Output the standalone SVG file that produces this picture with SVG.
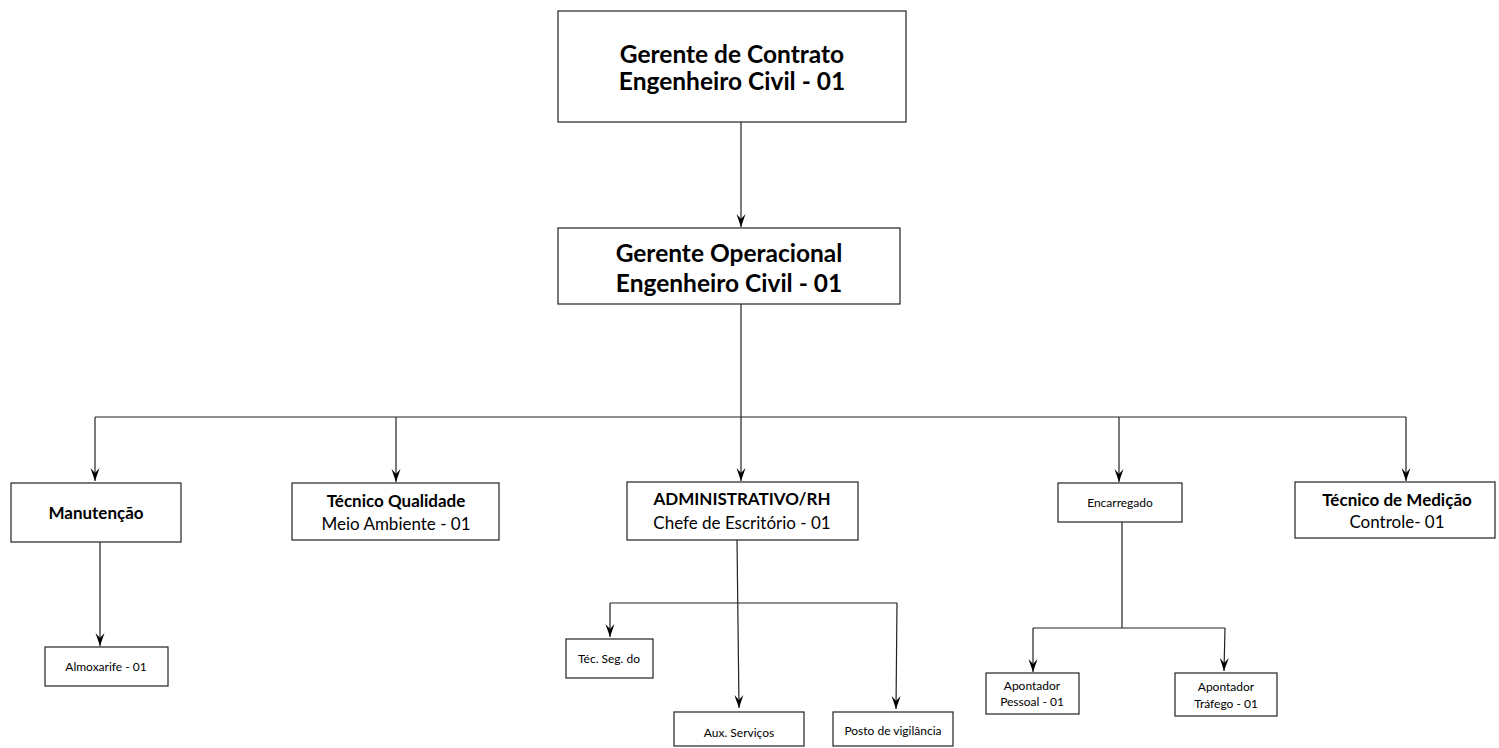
<svg xmlns="http://www.w3.org/2000/svg" width="1499" height="748" viewBox="0 0 1499 748">
<style>
.box{fill:#fff;stroke:#222;stroke-width:1.2}
.ln{fill:none;stroke:#222;stroke-width:1.2}
text{font-family:Lato,"Open Sans","Liberation Sans",sans-serif;fill:#000;text-anchor:middle}
.t1{font-size:24.5px;font-weight:bold}
.b{font-size:17px;font-weight:bold}
.r{font-size:17px}
.s{font-size:12px}
</style>
<defs>
<marker id="arr" markerUnits="userSpaceOnUse" markerWidth="14" markerHeight="12" viewBox="-13 -6 14 12" refX="0" refY="0" orient="auto">
<path d="M-13,-4.5 L0,0 L-13,4.5 L-8,0 Z" fill="#000"/>
</marker>
</defs>
<g id="connectors">
<path class="ln" d="M741,122 V227" marker-end="url(#arr)"/>
<path class="ln" d="M741,304 V417"/>
<path class="ln" d="M95,417 H1406"/>
<path class="ln" d="M95,417 V481" marker-end="url(#arr)"/>
<path class="ln" d="M396,417 V482" marker-end="url(#arr)"/>
<path class="ln" d="M741,417 V481" marker-end="url(#arr)"/>
<path class="ln" d="M1119,417 V482" marker-end="url(#arr)"/>
<path class="ln" d="M1406,417 V481" marker-end="url(#arr)"/>
<path class="ln" d="M100,542 V646" marker-end="url(#arr)"/>
<path class="ln" d="M737,540 L739,708" marker-end="url(#arr)"/>
<path class="ln" d="M610,603 H897"/>
<path class="ln" d="M610,603 V637" marker-end="url(#arr)"/>
<path class="ln" d="M897,603 L896,709" marker-end="url(#arr)"/>
<path class="ln" d="M1122,522 V628"/>
<path class="ln" d="M1033,628 H1225"/>
<path class="ln" d="M1033,628 V672" marker-end="url(#arr)"/>
<path class="ln" d="M1225,628 L1224,671" marker-end="url(#arr)"/>
</g>
<g id="n-contrato">
<rect class="box" x="558" y="11" width="348" height="111"/>
<text class="t1" x="732" y="63">Gerente de Contrato</text>
<text class="t1" x="732" y="90">Engenheiro Civil - 01</text>
</g>
<g id="n-operacional">
<rect class="box" x="558" y="228" width="342" height="76"/>
<text class="t1" x="729" y="262">Gerente Operacional</text>
<text class="t1" x="729" y="292">Engenheiro Civil - 01</text>
</g>
<g id="n-manutencao">
<rect class="box" x="11" y="483" width="170" height="59"/>
<text class="b" x="96" y="519">Manutenção</text>
</g>
<g id="n-qualidade">
<rect class="box" x="292" y="483" width="207" height="57"/>
<text class="b" x="396" y="507">Técnico Qualidade</text>
<text class="r" x="396" y="530">Meio Ambiente - 01</text>
</g>
<g id="n-admin">
<rect class="box" x="627" y="482" width="231" height="58"/>
<text class="b" x="742" y="505">ADMINISTRATIVO/RH</text>
<text class="r" x="742" y="529">Chefe de Escritório - 01</text>
</g>
<g id="n-encarregado">
<rect class="box" x="1058" y="483" width="124" height="39"/>
<text class="s" x="1120" y="507">Encarregado</text>
</g>
<g id="n-medicao">
<rect class="box" x="1295" y="482" width="200" height="56"/>
<text class="b" x="1397" y="506">Técnico de Medição</text>
<text class="r" x="1397" y="528">Controle- 01</text>
</g>
<g id="n-almoxarife">
<rect class="box" x="45" y="647" width="123" height="39"/>
<text class="s" x="106" y="671">Almoxarife - 01</text>
</g>
<g id="n-tecseg">
<rect class="box" x="566" y="639" width="87" height="39"/>
<text class="s" x="609" y="663">Téc. Seg. do</text>
</g>
<g id="n-aux">
<rect class="box" x="674" y="712" width="130" height="34"/>
<text class="s" x="739" y="737">Aux. Serviços</text>
</g>
<g id="n-posto">
<rect class="box" x="833" y="712" width="120" height="34"/>
<text class="s" x="893" y="735">Posto de vigilância</text>
</g>
<g id="n-ap-pessoal">
<rect class="box" x="986" y="673" width="93" height="41"/>
<text class="s" x="1032" y="690">Apontador</text>
<text class="s" x="1032" y="706">Pessoal - 01</text>
</g>
<g id="n-ap-trafego">
<rect class="box" x="1175" y="673" width="102" height="43"/>
<text class="s" x="1226" y="691">Apontador</text>
<text class="s" x="1226" y="708">Tráfego - 01</text>
</g>
</svg>
